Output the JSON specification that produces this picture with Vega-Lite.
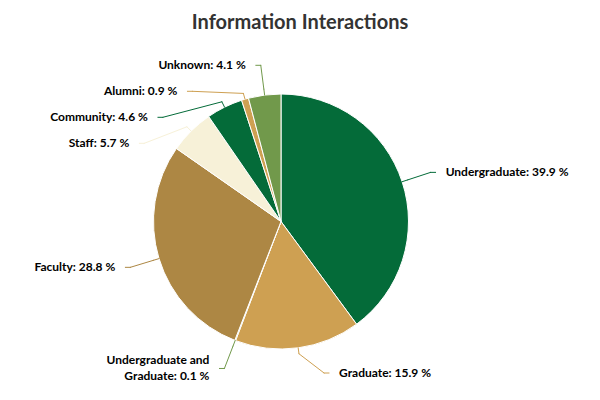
{
  "$schema": "https://vega.github.io/schema/vega-lite/v6.json",
  "description": "Pie of information interactions by patron type, with outside labels and leader lines",
  "width": 562,
  "height": 357,
  "autosize": "none",
  "padding": {"left": 0, "top": 43, "right": 38, "bottom": 0},
  "background": "white",
  "title": {
    "text": "Information Interactions",
    "font": "Lato",
    "fontSize": 20,
    "fontWeight": "bold",
    "color": "#333333",
    "anchor": "middle",
    "frame": "group",
    "baseline": "alphabetic",
    "dx": 19,
    "dy": 23,
    "offset": 17
  },
  "data": {
    "values": [
      {"category": "Undergraduate", "value": 39.9},
      {"category": "Graduate", "value": 15.9},
      {"category": "Undergraduate and Graduate", "value": 0.1},
      {"category": "Faculty", "value": 28.8},
      {"category": "Staff", "value": 5.7},
      {"category": "Community", "value": 4.6},
      {"category": "Alumni", "value": 0.9},
      {"category": "Unknown", "value": 4.1}
    ]
  },
  "transform": [
    {"window": [{"op": "row_number", "as": "idx"}]},
    {"window": [{"op": "sum", "field": "value", "as": "cum"}], "sort": [{"field": "idx"}], "frame": [null, 0]},
    {"joinaggregate": [{"op": "sum", "field": "value", "as": "total"}]},
    {"calculate": "2 * PI * (datum.cum - datum.value / 2) / datum.total", "as": "mid"},
    {"calculate": "sin(datum.mid)", "as": "sn"},
    {"calculate": "cos(datum.mid)", "as": "cs"},
    {"calculate": "datum.sn < 0 ? -1 : 1", "as": "side"},
    {"calculate": "127.5 * datum.sn", "as": "ex"},
    {"calculate": "127.5 * datum.cs", "as": "ey"},
    {"calculate": "133.5 * datum.sn", "as": "bx"},
    {"calculate": "133.5 * datum.cs", "as": "by"},
    {"calculate": "157.5 * datum.cs", "as": "ny"},
    {"window": [{"op": "row_number", "as": "rk"}], "groupby": ["side"], "sort": [{"field": "ny", "order": "descending"}]},
    {"calculate": "datum.ny + 26 * datum.rk", "as": "z"},
    {"window": [{"op": "min", "field": "z", "as": "zmin"}], "groupby": ["side"], "sort": [{"field": "ny", "order": "descending"}], "frame": [null, 0]},
    {"calculate": "max(datum.zmin - 26 * datum.rk, -151.5)", "as": "ly"},
    {"calculate": "datum.side * sqrt(max(0, 157.5 * 157.5 - datum.ly * datum.ly))", "as": "lc"},
    {"calculate": "datum.lc + 5 * datum.side", "as": "le"},
    {"calculate": "datum.lc + 15 * datum.side", "as": "tx"},
    {"calculate": "datum.category + ': ' + format(datum.value, '.1f') + ' %'", "as": "lab"},
    {"calculate": "length(datum.lab) > 26 ? [slice(datum.lab, 0, lastindexof(slice(datum.lab, 0, 18), ' ')), slice(datum.lab, lastindexof(slice(datum.lab, 0, 18), ' ') + 1)] : datum.lab", "as": "labl"},
    {"calculate": "isArray(datum.labl) ? datum.ly + 8 * (length(datum.labl) - 1) : datum.ly", "as": "ty"}
  ],
  "encoding": {
    "color": {
      "field": "category",
      "type": "nominal",
      "legend": null,
      "scale": {
        "domain": ["Undergraduate", "Graduate", "Undergraduate and Graduate", "Faculty", "Staff", "Community", "Alumni", "Unknown"],
        "range": ["#046b39", "#cea052", "#71994b", "#ad8744", "#f7f1d8", "#046b39", "#cea052", "#71994b"]
      }
    }
  },
  "layer": [
    {
      "mark": {"type": "arc", "outerRadius": 127.5, "stroke": "white", "strokeWidth": 1},
      "encoding": {
        "theta": {"field": "value", "type": "quantitative", "stack": true},
        "order": {"field": "idx", "type": "quantitative"}
      }
    },
    {
      "mark": {"type": "rule", "strokeWidth": 1, "strokeCap": "round"},
      "encoding": {
        "x": {"field": "le", "type": "quantitative", "axis": null, "scale": {"domain": [-281, 281], "nice": false, "zero": false}},
        "y": {"field": "ly", "type": "quantitative", "axis": null, "scale": {"domain": [-178.5, 178.5], "nice": false, "zero": false}},
        "x2": {"field": "lc"},
        "y2": {"field": "ly"}
      }
    },
    {
      "mark": {"type": "rule", "strokeWidth": 1, "strokeCap": "round"},
      "encoding": {
        "x": {"field": "lc", "type": "quantitative"},
        "y": {"field": "ly", "type": "quantitative"},
        "x2": {"field": "bx"},
        "y2": {"field": "by"}
      }
    },
    {
      "mark": {"type": "rule", "strokeWidth": 1, "strokeCap": "round"},
      "encoding": {
        "x": {"field": "bx", "type": "quantitative"},
        "y": {"field": "by", "type": "quantitative"},
        "x2": {"field": "ex"},
        "y2": {"field": "ey"}
      }
    },
    {
      "transform": [{"filter": "datum.side > 0"}],
      "mark": {"type": "text", "align": "left", "baseline": "middle", "font": "Lato", "fontSize": 12, "fontWeight": "bold", "lineHeight": 16},
      "encoding": {
        "x": {"field": "tx", "type": "quantitative"},
        "y": {"field": "ty", "type": "quantitative"},
        "text": {"field": "labl"},
        "color": {"value": "#000000"}
      }
    },
    {
      "transform": [{"filter": "datum.side < 0"}],
      "mark": {"type": "text", "align": "right", "baseline": "middle", "font": "Lato", "fontSize": 12, "fontWeight": "bold", "lineHeight": 16},
      "encoding": {
        "x": {"field": "tx", "type": "quantitative"},
        "y": {"field": "ty", "type": "quantitative"},
        "text": {"field": "labl"},
        "color": {"value": "#000000"}
      }
    }
  ],
  "config": {
    "view": {"stroke": null}
  }
}
